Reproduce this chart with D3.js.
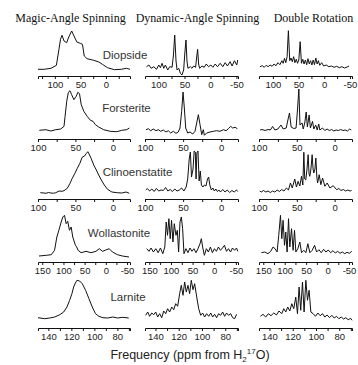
<!DOCTYPE html>
<html><head><meta charset="utf-8">
<script src="https://cdn.jsdelivr.net/npm/d3@7"></script>
<style>body{margin:0;background:#fff}svg{display:block}</style>
</head><body>
<script>
// ---- text ----
const methodTitles = ["Magic-Angle Spinning", "Dynamic-Angle Spinning", "Double Rotation"];
const minerals = ["Diopside", "Forsterite", "Clinoenstatite", "Wollastonite", "Larnite"];

// ---- axis domains (ppm) per row and column ----
const domainsDiopside = [[133, -47], [126, -53], [127, -54]];
const domainsForsterite = [[100, -23], [100, -22], [100, -23]];
const domainsClino = [[100, -23], [100, -22], [100, -23]];
const domainsWolla = [[160, -57], [160, -55], [160, -57]];
const domainsLarnite = [[149, 69], [149, 69], [149, 69]];

// ---- tick values ----
const ticksDiopside = [[125, 100, 75, 50, 25, 0, -25], [100, 75, 50, 25, 0, -25, -50], [100, 75, 50, 25, 0, -25, -50]];
const labelsDiopside = [[100, 50, 0], [100, 50, 0, -50], [100, 50, 0, -50]];
const ticksForsterite = [100, 75, 50, 25, 0];
const labelsForsterite = [100, 50, 0];
const ticksWolla = [150, 125, 100, 75, 50, 25, 0, -25, -50];
const labelsWolla = [150, 100, 50, 0, -50];
const ticksLarnite = [140, 130, 120, 110, 100, 90, 80, 70];
const labelsLarnite = [140, 120, 100, 80];

// ---- spectra: [ppm, intensity (arb.)] ----
const diopsideMAS = [[133,6.7],[121,6.7],[107.5,7.7],[97,10.7],[92,26.7],[89,36.7],[86,40.7],[82,35],[77,33.3],[72,40],[67,45],[62.6,40],[57,34],[50.5,32.7],[46,31.7],[42.5,20],[37,17.3],[24,15.7],[14,14],[7,11.7],[-3,8.3],[-16.5,6.3],[-30,6.7],[-40,7.7],[-47,6.7]];
const diopsideDAS = [[123.1,9.3],[118.6,11],[114.1,7.7],[109,9.3],[103.9,6.7],[99.5,11],[96.3,8.3],[93.1,12.7],[89.9,7.7],[86.7,11],[82.2,6],[78.4,9.3],[73.9,8.7],[71.4,20],[68.8,41],[66.3,15],[64.3,6],[61.1,7.7],[57.9,2.7],[54.8,1],[51.6,6],[49,25],[47.1,36],[45.2,15],[43.3,7.7],[38.8,9.3],[35.6,7.7],[32.4,10],[28.6,8.7],[26.7,18],[24.7,26.7],[22.8,12],[20.9,7.7],[16.4,10],[12,8.7],[8.1,12],[3.7,9.3],[-0.8,11],[-4.6,8.7],[-9.1,12],[-13.6,9.3],[-18.7,12.7],[-23.8,9.3],[-28.3,13.3],[-32.7,10],[-37.8,14.3],[-41.7,10],[-46.1,15.3],[-50.6,11],[-52.5,16]];
const diopsideDOR = [[125,9.3],[120.6,10.3],[116.8,8.7],[113,10.7],[109.2,9.3],[105.3,11],[101.5,9.7],[97.7,12],[93.9,10.3],[90.1,13.3],[86.3,11.3],[82.5,15.3],[80,12.7],[77.4,17.7],[74.9,13.3],[72.3,19.3],[69.8,45.3],[67.2,15.3],[64.7,18],[62.2,14.3],[59.6,19.3],[57.1,13.3],[54.5,16.7],[52,12.7],[49.5,16],[46.9,34.3],[44.4,12.7],[41.8,16.7],[39.3,12],[36.8,16],[34.2,11.3],[31.7,17.3],[29.1,12],[26.6,15.3],[24.1,11],[21.5,16],[19,11.3],[16.4,18],[13.9,12],[11.4,15.3],[8.8,10.7],[5,13.3],[1.2,10],[-3.9,11],[-9,9.3],[-14,10],[-19.1,8.7],[-24.2,9.7],[-29.3,8.3],[-34.4,9.3],[-39.4,8],[-44.5,9],[-48.3,10]];

const forsteriteMAS = [[98.2,8.7],[89.4,9.3],[82.8,8],[76.2,9.3],[69.6,10],[65.2,12.7],[63.8,22.7],[61.6,37.7],[59.4,46.7],[57.2,48.3],[55,44.3],[52,39.3],[48.9,42.7],[46.7,46.7],[44.5,45.3],[42.2,34.3],[38.7,27.7],[34.3,22.7],[29.9,18.7],[26.4,17.7],[23.3,14.3],[18.9,12],[12.3,9.3],[3.4,7.7],[-5.4,7.3],[-12,8.7],[-18.6,9.3],[-22.1,11]];
const forsteriteDAS = [[98.7,9.3],[95.6,10.3],[92.6,8.3],[89.1,10],[85.6,8.3],[82.5,9.3],[79.4,7.7],[75.9,9],[72.4,7],[69.4,8.3],[66.3,6],[62.8,7.7],[59.3,5.7],[56.3,7],[54.1,11],[51.9,27.7],[50.1,47],[48.4,31],[46.6,11],[44,6],[41,7],[37.4,5],[34.4,7.7],[32.2,16],[30,24.3],[27.8,14.3],[25.6,4.3],[23.5,9.3],[22.1,3.7],[19.1,6],[14.7,7],[10.3,7.7],[6,8.3],[1.6,7.7],[-2.8,9.3],[-6.3,8.3],[-9.4,10.3],[-12.4,12.7],[-15,11],[-18.1,11.7],[-21.2,10.3]];
const forsteriteDOR = [[98.5,9],[96,9.5],[92,8.5],[88,9.5],[85,9],[82,12.5],[79,9],[75,10],[71,14],[68,10],[64,11],[61.5,20],[59.7,26],[57.5,12],[54,10.5],[51,11],[49,30],[47.3,50],[45.8,14],[43,16],[41.5,10],[39.5,16],[37.6,27],[36,12],[33.7,24],[32,11],[29.2,17.6],[27.5,10],[25,14],[23,9],[21,15],[19.5,9],[16,11],[13,8.5],[10,10],[7,8.5],[4,9.5],[1,8],[-2,9],[-5,8.5],[-8,9.5],[-11,8.5],[-14,9],[-17,8],[-20,10],[-22,9]];

const clinoMAS = [[96.9,6.3],[92,6],[89.4,5.7],[86,6.5],[82.8,6],[79,5.8],[76.2,6.3],[71.8,8],[68,7.7],[65.2,8.3],[60.8,10.7],[57.2,15.7],[54.2,20.7],[50.6,25.7],[47.5,30.7],[44,35.7],[41,41.7],[37.8,43],[35.2,45.7],[33.4,47.3],[31.7,45],[29,40.7],[25.5,34],[22,29],[18.9,24],[15.3,19],[11.4,14],[7,9.7],[1.2,7],[-5.4,6.3],[-12,6],[-17.7,7],[-22.1,5.7]];
const clinoDAS = [[99,9],[97,10.5],[94,8],[91,10],[88,7.5],[85,10.5],[82,8],[79,9],[76,8.5],[73,11.5],[70,8],[67,9.5],[64,7.5],[61,10],[58,8],[55,9],[52,11],[49,8],[46,12],[44,20],[42,40],[40.5,47],[39,22],[37,30],[35.5,48],[34,47],[33,20],[32,46],[30.5,48],[29,18],[27.5,28],[26,14],[24,12],[22,14],[20,13],[18,20],[16.5,22],[15,14],[13,9],[11,11],[9,8],[7,10],[5,7.5],[3,9],[1,7],[-2,9.5],[-5,7],[-8,9],[-11,6.5],[-14,8.5],[-17,7],[-20,9],[-21.5,7.5]];
const clinoDOR = [[99,8],[97,7],[94,8.5],[91,7],[88,8],[85,6.5],[82,8],[79,7],[76,9],[73,7.5],[70,9.5],[67,8],[63.7,11],[61,9],[58.4,16],[56,11],[52.7,20],[50.5,12],[48.3,17.7],[46,13],[43.8,22.7],[42,14],[40.7,46.7],[39.5,20],[38.1,19],[36.5,30],[35,44.3],[33.8,25],[32.8,22.7],[31.3,30],[29.7,44.3],[28.5,30],[27.5,26],[26,30],[24.8,41],[23.5,22],[22.5,16],[20.4,24.3],[18.2,14.3],[15.9,21],[12.9,12.7],[9.8,16],[6.2,11],[1.9,13.3],[-2.7,9.3],[-5.5,10.5],[-8.5,8.5],[-11.5,9.5],[-14.5,8],[-17.5,9],[-20.5,8],[-22.5,8.5]];

const wollaMAS = [[157.7,6],[140.3,6.7],[128.6,7.3],[121,11.7],[115.5,25],[110.8,31.7],[105.3,40],[101.5,45],[97.5,46.7],[93.6,38.3],[89.8,40.7],[85.8,31.7],[81.8,35],[78,25],[71.7,16.7],[68.7,15],[65.4,11.7],[58.4,9.3],[46.7,10.7],[35,9.3],[23.2,10.7],[15.5,13.3],[7.8,10.7],[0,12],[-7.9,13.3],[-15.6,10],[-27.3,7.3],[-39,6],[-54.7,5]];
const wollaDAS = [[156,13.3],[150.7,10.7],[146,14],[140.6,10],[135,13.3],[129.7,9.3],[124.3,14],[118.8,8.3],[114.2,15],[111,40],[108,26.7],[104.8,43.3],[101.7,23.3],[98.6,41.7],[95.4,20],[92.3,38.3],[88.4,26.7],[85.3,31.7],[82.3,10],[79.1,40],[76,45],[73,33.3],[69.9,8.3],[65.3,13.3],[60.7,9.3],[56,14],[51.4,10.7],[46.8,13.3],[42.1,9.3],[37.5,13.3],[32.8,18.3],[29.8,23.3],[26.7,15],[22.8,6.7],[18.1,13.3],[13.5,10],[8.8,15],[4.2,9.3],[-0.5,13.3],[-5.1,10.7],[-9.8,15],[-14.4,11.7],[-19.1,14],[-23.7,16.7],[-28.4,10.7],[-33,13.3],[-37.7,10],[-42.3,14],[-47,11.7],[-51.6,14],[-54.5,10.7]];
const wollaDOR = [[154.4,9.3],[146.7,10],[138.9,8.3],[132.6,10.7],[127.2,15],[122.5,13.3],[117.8,10],[113.9,26.7],[109.9,46.7],[106.8,23.3],[103.8,41.7],[100.5,16.7],[97.5,30],[94.4,10],[91.1,43.3],[88.1,15],[84.1,33.3],[80.4,11.7],[77.1,31.7],[74,10],[69.4,13.3],[64.7,20],[60.7,9.3],[55.3,11.7],[50.6,9.3],[46,18.3],[41.3,9.3],[35.9,11.7],[30.3,16.7],[25.6,10],[20.2,12.3],[14.8,9.3],[9.2,12.7],[3.8,10],[-1.6,12],[-7.2,9.3],[-12.6,11.3],[-18,9],[-23.6,10.7],[-29,8.7],[-34.4,10],[-40,8.3],[-45.4,9.7],[-50.8,8.7],[-56.4,10.7]];

const larniteMAS = [[149,10.3],[143.2,9.3],[138.8,10],[134.5,11],[130.1,13.3],[126.7,16],[123.8,21],[121.5,27.7],[119.5,34.3],[118,41],[116.5,45],[115.1,47.7],[112.8,47],[110.5,44.3],[107.6,37.7],[104.7,29.3],[101.8,21],[99,14.3],[96.1,11.7],[92.6,10.3],[88.3,10],[84,11],[79.7,10],[75.3,10.7],[70.1,10]];
const larniteDAS = [[148.4,12.7],[146.7,16],[145,11.7],[143.2,15],[141.5,13.3],[139.8,16],[138.1,11],[136.4,14.3],[134.6,10.3],[132.9,17],[131.2,14.3],[129.5,19.3],[127.8,16],[126,21],[124.3,18.3],[122.6,24.3],[120.9,21.7],[119.2,34.3],[117.8,42.7],[116.3,32.7],[114.9,46],[113.5,36],[112,42.7],[110.6,34.3],[109.2,47.7],[107.7,38.3],[106.3,44.3],[104.5,31],[102.8,19.3],[101.1,12.7],[99.4,15],[97.7,11],[96,14.3],[94.2,11.7],[92.5,15],[90.8,11],[89.1,13.7],[87.4,10.3],[85.7,14.3],[83.9,12.7],[82.2,16],[80.5,11.7],[78.8,15],[77.1,12.7],[75.3,14.3],[73.6,10.3],[71.9,9.3],[70.2,13.7]];
const larniteDOR = [[147.8,11.7],[145.6,13.7],[143.2,11],[140.9,14.3],[138.7,12.3],[136.3,15],[134,13],[131.8,17],[129.4,14.3],[127.7,19.3],[126,16],[124.3,21],[122.5,17],[120.8,24.3],[119.1,19.3],[117.4,31],[115.9,14.3],[114.5,41],[113.1,17.7],[111.6,46],[110.2,16],[108.7,47.7],[107.3,27.7],[105.9,37.7],[104.4,16],[102.4,14.3],[100.4,11.7],[98.4,15],[96.4,12.3],[94.3,14.3],[92.4,11],[90.4,13],[88.3,10.3],[86.3,12.7],[84.3,10],[82.3,11.7],[80.3,9.3],[78.3,11],[76.2,9],[74.3,10.3],[72.3,8.3],[70.2,9.7],[69,7.7]];

// ---- assemble rows (layout lives below, not in the data) ----
const rows = [
  {name: minerals[0], spectra: [diopsideMAS, diopsideDAS, diopsideDOR], domains: domainsDiopside, ticks: ticksDiopside, labels: labelsDiopside},
  {name: minerals[1], spectra: [forsteriteMAS, forsteriteDAS, forsteriteDOR], domains: domainsForsterite, ticks: [ticksForsterite, ticksForsterite, ticksForsterite], labels: [labelsForsterite, labelsForsterite, labelsForsterite]},
  {name: minerals[2], spectra: [clinoMAS, clinoDAS, clinoDOR], domains: domainsClino, ticks: [ticksForsterite, ticksForsterite, ticksForsterite], labels: [labelsForsterite, labelsForsterite, labelsForsterite]},
  {name: minerals[3], spectra: [wollaMAS, wollaDAS, wollaDOR], domains: domainsWolla, ticks: [ticksWolla, ticksWolla, ticksWolla], labels: [labelsWolla, labelsWolla, labelsWolla]},
  {name: minerals[4], spectra: [larniteMAS, larniteDAS, larniteDOR], domains: domainsLarnite, ticks: [ticksLarnite, ticksLarnite, ticksLarnite], labels: [labelsLarnite, labelsLarnite, labelsLarnite]}
];

// ---- layout ----
const W = 358, H = 365;
const colRanges = [[38, 130], [145, 238], [259, 352]];
const rowAxisY = [76, 139, 199, 262, 328];
const nameCenters = [[125, 59], [126.5, 112], [137.5, 176], [119, 237], [128, 301]];
const titleCenters = [70.5, 197.5, 313.5];

const svg = d3.select("body").append("svg").attr("width", W).attr("height", H);

svg.selectAll("text.title").data(methodTitles).join("text")
  .attr("class", "title")
  .attr("x", (d, i) => titleCenters[i]).attr("y", 22)
  .attr("text-anchor", "middle")
  .style("font-family", "'Liberation Serif','Times New Roman',serif")
  .style("font-size", "12px").attr("fill", "#111")
  .text(d => d);

rows.forEach((row, r) => {
  const ay = rowAxisY[r];
  const y = d3.scaleLinear().domain([0, 50]).range([ay, ay - 50]);
  row.spectra.forEach((spec, c) => {
    const x = d3.scaleLinear().domain(row.domains[c]).range(colRanges[c]);
    const labelSet = new Set(row.labels[c]);
    const axis = d3.axisBottom(x).tickValues(row.ticks[c])
      .tickSize(3).tickSizeOuter(3).tickPadding(2)
      .tickFormat(v => labelSet.has(v) ? String(v) : "");
    const g = svg.append("g").attr("transform", `translate(0,${ay})`).call(axis);
    g.select(".domain").attr("stroke", "#111").attr("stroke-width", 1);
    g.selectAll(".tick line").attr("stroke", "#111");
    g.selectAll(".tick text").attr("fill", "#222")
      .style("font-family", "'Liberation Sans',Arial,sans-serif").style("font-size", "9.5px");
    const line = d3.line().x(d => x(d[0])).y(d => y(d[1]));
    svg.append("path").datum(spec).attr("d", line)
      .attr("fill", "none").attr("stroke", "#111").attr("stroke-width", 1)
      .attr("stroke-linejoin", "round");
  });
  svg.append("text").attr("x", nameCenters[r][0]).attr("y", nameCenters[r][1])
    .attr("text-anchor", "middle")
    .style("font-family", "'Liberation Sans',Arial,sans-serif").style("font-size", "11.5px")
    .attr("fill", "#333").text(row.name);
});

const xt = svg.append("text").attr("x", 190).attr("y", 359).attr("text-anchor", "middle")
  .style("font-family", "'Liberation Sans',Arial,sans-serif").style("font-size", "12.5px").attr("fill", "#222");
xt.append("tspan").text("Frequency (ppm from H");
xt.append("tspan").attr("dy", 2.5).style("font-size", "8px").text("2");
xt.append("tspan").attr("dy", -7.5).style("font-size", "8px").text("17");
xt.append("tspan").attr("dy", 5).text("O)");
</script>
</body></html>
